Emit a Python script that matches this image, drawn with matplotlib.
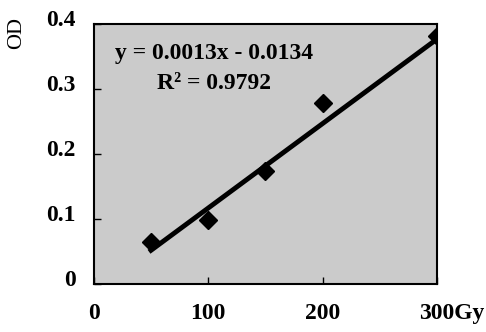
import numpy as np
import matplotlib.pyplot as plt
import matplotlib.transforms as mtransforms

dose = [50, 100, 150, 200, 300]
od = [0.065, 0.098, 0.174, 0.278, 0.382]
slope = 0.0013
intercept = -0.0134
r2 = 0.9792
xticks = [0, 100, 200, 300]
xticklabels = ["0", "100", "200", "300Gy"]
yticks = [0, 0.1, 0.2, 0.3, 0.4]
yticklabels = ["0", "0.1", "0.2", "0.3", "0.4"]

plt.rcParams["font.family"] = "Liberation Serif"
plt.rcParams["font.weight"] = "bold"

fig = plt.figure(figsize=(4.86, 3.32), dpi=100)
ax = fig.add_axes([0.193, 0.145, 0.706, 0.783])
ax.set_facecolor("#cbcbcb")

fit_x = np.array([dose[0], dose[-1]])
ax.plot(fit_x, slope * fit_x + intercept, color="black", lw=3.5, zorder=2)
ax.plot(dose, od, linestyle="none", marker="D", markersize=9, color="black", zorder=3)

ax.set_xlim(0, 300)
ax.set_ylim(0, 0.398)
ax.set_xticks(xticks)
ax.set_xticklabels(xticklabels)
ax.set_yticks(yticks)
ax.set_yticklabels(yticklabels)
ax.tick_params(direction="in", length=5, width=1, labelsize=17)
ax.tick_params(axis="x", pad=14)
ax.tick_params(axis="y", pad=13)
for s in ax.spines.values():
    s.set_linewidth(1.5)

# shift labels like in the scanned original
for lab in ax.get_yticklabels():
    lab.set_transform(lab.get_transform() + mtransforms.ScaledTranslation(0, 0.06, fig.dpi_scale_trans))
last = ax.get_xticklabels()[-1]
last.set_transform(last.get_transform() + mtransforms.ScaledTranslation(0.15, 0, fig.dpi_scale_trans))

ax.text(105, 0.354, "y = %.4fx - %.4f" % (slope, -intercept), ha="center", va="center", fontsize=17)
ax.text(105, 0.308, "R² = %.4f" % r2, ha="center", va="center", fontsize=17)

fig.text(0.035, 0.90, "OD", rotation=90, ha="center", va="center", fontsize=16, fontweight="normal")

fig.savefig("out.png", dpi=100)
